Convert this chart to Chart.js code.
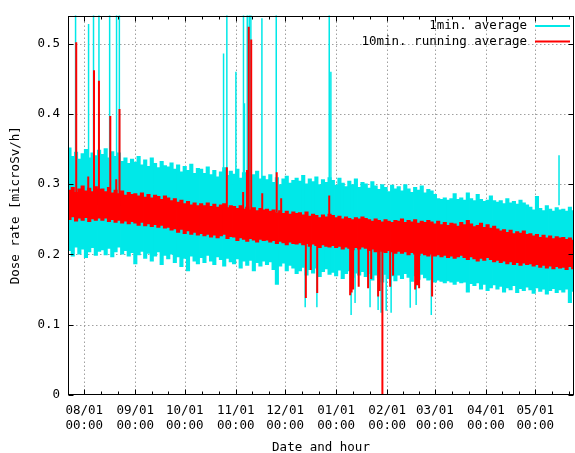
<!DOCTYPE html>
<html>
<head>
<meta charset="utf-8">
<script src="https://cdn.jsdelivr.net/npm/chart.js@4.4.0/dist/chart.umd.min.js"></script>
<style>
  html, body { margin: 0; padding: 0; background: #fff; }
  #wrap { width: 575px; height: 453px; }
</style>
</head>
<body>
<div id="wrap"><canvas id="doseChart" width="575" height="453"></canvas></div>
<script>
// x = days from 2011-08-01 00:00, values in microSv/h
// the band is read from the picture in 2-day bins (low / high edge of each trace)
const firstBinDay = -10;
const binDays = 2;

const cyanHi = [
  0.352, 0.340, 0.346, 0.336, 0.344, 0.350, 0.338, 0.345, 0.341, 0.349,
  0.343, 0.351, 0.338, 0.347, 0.340, 0.345, 0.333, 0.338, 0.330, 0.336,
  0.332, 0.340, 0.328, 0.335, 0.326, 0.338, 0.330, 0.324, 0.333, 0.327,
  0.325, 0.331, 0.322, 0.328, 0.318, 0.326, 0.320, 0.329, 0.316, 0.323,
  0.322, 0.316, 0.325, 0.314, 0.320, 0.311, 0.318, 0.324, 0.313, 0.319,
  0.315, 0.322, 0.309, 0.317, 0.311, 0.306, 0.314, 0.319, 0.308, 0.312,
  0.307, 0.314, 0.303, 0.310, 0.300, 0.308, 0.312, 0.302, 0.306, 0.309,
  0.305, 0.313, 0.301, 0.308, 0.304, 0.311, 0.300, 0.307, 0.303, 0.310,
  0.306, 0.299, 0.309, 0.302, 0.297, 0.305, 0.300, 0.308, 0.296, 0.303,
  0.301, 0.295, 0.304, 0.298, 0.293, 0.300, 0.296, 0.290, 0.299, 0.294,
  0.297, 0.291, 0.300, 0.294, 0.289, 0.296, 0.292, 0.298, 0.288, 0.293,
  0.291, 0.286, 0.280, 0.279, 0.281, 0.278, 0.280, 0.287, 0.279, 0.281,
  0.278, 0.288, 0.280, 0.277, 0.286, 0.279, 0.276, 0.278, 0.284, 0.277,
  0.275, 0.277, 0.273, 0.280, 0.274, 0.276, 0.272, 0.278, 0.274, 0.271,
  0.268, 0.264, 0.283, 0.266, 0.263, 0.270, 0.265, 0.262, 0.267, 0.264,
  0.265, 0.262, 0.268, 0.263
];
const cyanLo = [
  0.205, 0.197, 0.210, 0.200, 0.207, 0.195, 0.203, 0.209, 0.198, 0.204,
  0.206, 0.199, 0.208, 0.196, 0.203, 0.210, 0.200, 0.205, 0.197, 0.202,
  0.186, 0.199, 0.204, 0.194, 0.201, 0.190, 0.197, 0.203, 0.185, 0.198,
  0.193, 0.200, 0.188, 0.196, 0.182, 0.194, 0.176, 0.197, 0.190, 0.186,
  0.195, 0.188, 0.198, 0.190, 0.185, 0.196, 0.192, 0.183, 0.194, 0.189,
  0.186, 0.193, 0.180, 0.190, 0.184, 0.191, 0.176, 0.188, 0.183, 0.190,
  0.185, 0.189, 0.178, 0.157, 0.183, 0.187, 0.176, 0.184, 0.180, 0.172,
  0.176, 0.181, 0.170, 0.178, 0.173, 0.180, 0.168, 0.175, 0.179, 0.171,
  0.174, 0.169, 0.177, 0.165, 0.172, 0.176, 0.167, 0.173, 0.170, 0.175,
  0.168, 0.172, 0.163, 0.170, 0.166, 0.160, 0.171, 0.165, 0.169, 0.162,
  0.170, 0.165, 0.172, 0.167, 0.161, 0.169, 0.164, 0.171, 0.166, 0.163,
  0.164, 0.160, 0.163, 0.161, 0.159, 0.162, 0.160, 0.157, 0.161, 0.159,
  0.160, 0.146, 0.158, 0.155, 0.159, 0.150, 0.157, 0.148, 0.152, 0.156,
  0.150, 0.154, 0.146, 0.152, 0.149, 0.155, 0.145, 0.151, 0.148, 0.153,
  0.149, 0.144, 0.152, 0.147, 0.150, 0.143, 0.148, 0.151, 0.145, 0.149,
  0.146, 0.150, 0.131, 0.147
];
const redHi = [
  0.292, 0.296, 0.289, 0.294, 0.298, 0.291, 0.295, 0.290, 0.297, 0.293,
  0.294, 0.290, 0.296, 0.288, 0.292, 0.287, 0.291, 0.285, 0.289, 0.286,
  0.287, 0.284, 0.288, 0.282, 0.286, 0.281, 0.285, 0.283, 0.279, 0.284,
  0.281, 0.277, 0.280, 0.275, 0.278, 0.273, 0.276, 0.271, 0.274, 0.270,
  0.273, 0.270, 0.274, 0.269, 0.272, 0.268, 0.271, 0.273, 0.267, 0.270,
  0.269, 0.266, 0.270, 0.265, 0.268, 0.264, 0.267, 0.263, 0.266, 0.264,
  0.265, 0.262, 0.264, 0.260, 0.263, 0.259, 0.262, 0.258, 0.261, 0.259,
  0.260, 0.257, 0.261, 0.255, 0.258, 0.256, 0.253, 0.257, 0.254, 0.258,
  0.256, 0.253, 0.255, 0.251, 0.254, 0.252, 0.250, 0.253, 0.251, 0.254,
  0.252, 0.250, 0.248, 0.251, 0.249, 0.247, 0.250, 0.248, 0.246, 0.249,
  0.248, 0.251, 0.246, 0.249, 0.247, 0.250, 0.245, 0.248, 0.246, 0.249,
  0.247, 0.244, 0.248, 0.243, 0.246, 0.242, 0.245, 0.244, 0.241, 0.246,
  0.243, 0.249, 0.244, 0.240, 0.242, 0.245, 0.239, 0.243, 0.238, 0.241,
  0.237, 0.234, 0.236, 0.232, 0.235, 0.230, 0.233, 0.231, 0.234, 0.229,
  0.230, 0.227, 0.229, 0.225, 0.228, 0.224, 0.227, 0.223, 0.226, 0.224,
  0.225, 0.222, 0.224, 0.221
];
const redLo = [
  0.249, 0.253, 0.247, 0.251, 0.248, 0.252, 0.246, 0.250, 0.248, 0.251,
  0.248, 0.251, 0.246, 0.249, 0.245, 0.248, 0.244, 0.247, 0.243, 0.246,
  0.244, 0.241, 0.245, 0.240, 0.243, 0.239, 0.242, 0.238, 0.241, 0.237,
  0.238, 0.234, 0.236, 0.231, 0.235, 0.229, 0.233, 0.228, 0.231, 0.227,
  0.229, 0.226, 0.228, 0.224, 0.227, 0.223, 0.226, 0.228, 0.222, 0.225,
  0.224, 0.219, 0.223, 0.221, 0.218, 0.222, 0.220, 0.217, 0.221, 0.219,
  0.220, 0.217, 0.219, 0.215, 0.218, 0.216, 0.213, 0.217, 0.215, 0.214,
  0.216, 0.213, 0.215, 0.211, 0.214, 0.212, 0.209, 0.213, 0.211, 0.210,
  0.212, 0.209, 0.211, 0.207, 0.210, 0.208, 0.206, 0.209, 0.207, 0.210,
  0.208, 0.205, 0.207, 0.203, 0.206, 0.204, 0.202, 0.205, 0.203, 0.201,
  0.204, 0.201, 0.203, 0.199, 0.202, 0.200, 0.198, 0.201, 0.199, 0.197,
  0.200, 0.197, 0.199, 0.196, 0.198, 0.195, 0.197, 0.194, 0.196, 0.198,
  0.195, 0.192, 0.196, 0.193, 0.190, 0.194, 0.191, 0.195, 0.192, 0.189,
  0.191, 0.188, 0.190, 0.186, 0.189, 0.185, 0.188, 0.184, 0.187, 0.185,
  0.186, 0.183, 0.185, 0.181, 0.184, 0.180, 0.183, 0.179, 0.182, 0.180,
  0.181, 0.178, 0.182, 0.179
];

// single readings sticking out of the band
const cyanSpikeDays = [-5.3, 2.6, 5.6, 8.9, 15.4, 19.6, 21.3, 84.6, 86.6, 92.1, 96.7, 97.3, 99.0, 100.2, 101.2, 107.9, 116.6, 148.8, 149.8, 288.4,
  134.2, 141.3, 162.1, 164.5, 173.6, 178.5, 180.3, 183.4, 186.4, 198.0, 201.6, 210.8];
const cyanSpikeLo = [0.30, 0.30, 0.30, 0.30, 0.30, 0.30, 0.30, 0.30, 0.30, 0.30, 0.30, 0.30, 0.30, 0.30, 0.30, 0.30, 0.30, 0.29, 0.29, 0.27,
  0.125, 0.125, 0.114, 0.131, 0.125, 0.121, 0.117, 0.120, 0.117, 0.124, 0.128, 0.114];
const cyanSpikeHi = [0.55, 0.528, 0.55, 0.55, 0.55, 0.55, 0.55, 0.486, 0.55, 0.46, 0.55, 0.415, 0.55, 0.55, 0.55, 0.536, 0.55, 0.55, 0.46, 0.341,
  0.19, 0.19, 0.19, 0.19, 0.19, 0.19, 0.19, 0.19, 0.19, 0.19, 0.19, 0.19];

const redSpikeDays = [-4.9, 2.4, 5.9, 8.9, 15.8, 19.4, 21.4, 86.6, 96.5, 98.8, 99.9, 101.4, 108.1, 116.9, 119.6, 148.8,
  134.6, 137.6, 141.5, 161.5, 162.4, 163.3, 166.7, 172.4, 174.3, 178.5, 179.4, 181.1, 185.8, 187.6, 201.0, 202.2, 203.4, 211.3];
const redSpikeLo = [0.27, 0.27, 0.27, 0.27, 0.27, 0.27, 0.27, 0.26, 0.26, 0.26, 0.26, 0.26, 0.26, 0.26, 0.26, 0.25,
  0.138, 0.178, 0.145, 0.142, 0.146, 0.150, 0.154, 0.152, 0.165, 0.140, 0.148, 0.000, 0.154, 0.170, 0.150, 0.156, 0.152, 0.140];
const redSpikeHi = [0.502, 0.311, 0.462, 0.447, 0.397, 0.307, 0.407, 0.324, 0.289, 0.320, 0.524, 0.506, 0.287, 0.317, 0.280, 0.284,
  0.22, 0.22, 0.22, 0.22, 0.22, 0.22, 0.22, 0.22, 0.22, 0.22, 0.22, 0.22, 0.21, 0.21, 0.21, 0.21, 0.21, 0.21];

// axis
const monthDays = [-31, 0, 31, 61, 92, 122, 153, 184, 213, 244, 274, 305];
const monthLabels = ['07/01', '08/01', '09/01', '10/01', '11/01', '12/01', '01/01', '02/01', '03/01', '04/01', '05/01', '06/01'];
const hourLabel = '00:00';
const yTicks = [0, 0.1, 0.2, 0.3, 0.4, 0.5];
const yTickLabels = ['0', '0.1', '0.2', '0.3', '0.4', '0.5'];
const xMin = -9.9, xMax = 297.5;
const yMin = 0, yMax = 0.54;

const seriesNames = ['1min. average', '10min. running average'];
const seriesColors = ['#00e8e8', '#ff0000'];

const FONT = 'DejaVu Sans Mono';

function bins(lo, hi) {
    return hi.map((h, i) => ({ x: firstBinDay + binDays * (i + 0.5), y: [lo[i], h] }));
}
// vertical strokes, broken apart by null points
function spikeLine(days, lo, hi) {
    const pts = [];
    days.forEach((d, i) => { pts.push({ x: d, y: lo[i] }, { x: d, y: hi[i] }, { x: d, y: null }); });
    return pts;
}

// gnuplot look: dotted grid, border with inward tics, legend at top right
const gnuplotFrame = {
    id: 'gnuplotFrame',
    beforeDatasetsDraw(chart) {
        const { ctx, chartArea: a, scales: { x, y } } = chart;
        ctx.save();
        ctx.strokeStyle = '#a0a0a0';
        ctx.lineWidth = 1;
        ctx.setLineDash([1.5, 2.5]);
        monthDays.forEach(d => {
            if (d <= xMin || d >= xMax) return;
            const px = Math.round(x.getPixelForValue(d)) + 0.5;
            ctx.beginPath(); ctx.moveTo(px, a.bottom); ctx.lineTo(px, a.top); ctx.stroke();
        });
        yTicks.forEach(v => {
            if (v <= yMin) return;
            const py = Math.round(y.getPixelForValue(v)) + 0.5;
            ctx.beginPath(); ctx.moveTo(a.left, py); ctx.lineTo(a.right, py); ctx.stroke();
        });
        ctx.restore();
    },
    afterDatasetsDraw(chart) {
        const { ctx, chartArea: a, scales: { x, y } } = chart;
        ctx.save();
        ctx.strokeStyle = '#000';
        ctx.lineWidth = 1;
        const l = Math.round(a.left) + 0.5, r = Math.round(a.right) - 0.5;
        const t = Math.round(a.top) + 0.5, b = Math.round(a.bottom) - 0.5;
        ctx.strokeRect(l, t, r - l, b - t);
        ctx.beginPath();
        const tic = (px, len) => {
            ctx.moveTo(px, b); ctx.lineTo(px, b - len);
            ctx.moveTo(px, t); ctx.lineTo(px, t + len);
        };
        for (let i = 0; i < monthDays.length; i++) {
            const d = monthDays[i];
            if (d > xMin && d < xMax) tic(Math.round(x.getPixelForValue(d)) + 0.5, 5);
            if (i + 1 < monthDays.length) {
                const step = (monthDays[i + 1] - d) / 3;
                [d + step, d + 2 * step].forEach(m => {
                    if (m > xMin && m < xMax) tic(Math.round(x.getPixelForValue(m)) + 0.5, 3);
                });
            }
        }
        yTicks.forEach(v => {
            const py = Math.round(y.getPixelForValue(v)) + 0.5;
            ctx.moveTo(l, py); ctx.lineTo(l + 5, py);
            ctx.moveTo(r, py); ctx.lineTo(r - 5, py);
        });
        ctx.stroke();
        ctx.restore();
    },
    afterDraw(chart) {
        const { ctx } = chart;
        ctx.save();
        ctx.font = '12.5px "' + FONT + '"';
        ctx.textAlign = 'right';
        ctx.textBaseline = 'middle';
        seriesNames.forEach((name, i) => {
            const yy = 26 + i * 15.5;
            ctx.fillStyle = '#000';
            ctx.fillText(name, 527, yy);
            ctx.strokeStyle = seriesColors[i];
            ctx.lineWidth = 2;
            ctx.beginPath(); ctx.moveTo(535, yy); ctx.lineTo(570, yy); ctx.stroke();
        });
        ctx.restore();
    }
};

const ctx = document.getElementById('doseChart').getContext('2d');
new Chart(ctx, {
    type: 'bar',
    data: {
        datasets: [
            { type: 'line', label: seriesNames[1], data: spikeLine(redSpikeDays, redSpikeLo, redSpikeHi), borderColor: seriesColors[1], borderWidth: 2, pointRadius: 0, spanGaps: false, clip: 0, order: 1 },
            { label: seriesNames[1], data: bins(redLo, redHi), backgroundColor: seriesColors[1], grouped: false, barPercentage: 1.25, categoryPercentage: 1, clip: 0, order: 2 },
            { type: 'line', label: seriesNames[0], data: spikeLine(cyanSpikeDays, cyanSpikeLo, cyanSpikeHi), borderColor: seriesColors[0], borderWidth: 1.5, pointRadius: 0, spanGaps: false, clip: 0, order: 3 },
            { label: seriesNames[0], data: bins(cyanLo, cyanHi), backgroundColor: seriesColors[0], grouped: false, barPercentage: 1.25, categoryPercentage: 1, clip: 0, order: 4 }
        ]
    },
    options: {
        responsive: false,
        animation: false,
        events: [],
        layout: { padding: { top: 15, right: 1, left: 0, bottom: 0 } },
        plugins: { legend: { display: false }, tooltip: { enabled: false } },
        scales: {
            x: {
                type: 'linear', min: xMin, max: xMax, offset: false,
                grid: { display: false, drawTicks: false },
                border: { display: false },
                afterBuildTicks: s => { s.ticks = monthDays.filter(d => d >= xMin && d <= xMax).map(v => ({ value: v })); },
                afterFit: s => { s.height = 58; },
                ticks: {
                    autoSkip: false, maxRotation: 0, padding: 8, color: '#000',
                    font: { family: FONT, size: 12.5 },
                    callback: v => [monthLabels[monthDays.indexOf(v)], hourLabel]
                },
                title: { display: true, text: 'Date and hour', color: '#000', padding: 0, font: { family: FONT, size: 12.5, lineHeight: 0.9 } }
            },
            y: {
                type: 'linear', min: yMin, max: yMax,
                grid: { display: false, drawTicks: false },
                border: { display: false },
                afterBuildTicks: s => { s.ticks = yTicks.map(v => ({ value: v })); },
                afterFit: s => { s.width = 68; },
                ticks: {
                    padding: 8, color: '#000',
                    font: { family: FONT, size: 12.5 },
                    callback: v => yTickLabels[yTicks.indexOf(v)]
                },
                title: { display: true, text: 'Dose rate [microSv/h]', color: '#000', padding: { top: 8 }, font: { family: FONT, size: 12.5 } }
            }
        }
    },
    plugins: [gnuplotFrame]
});
</script>
</body>
</html>
